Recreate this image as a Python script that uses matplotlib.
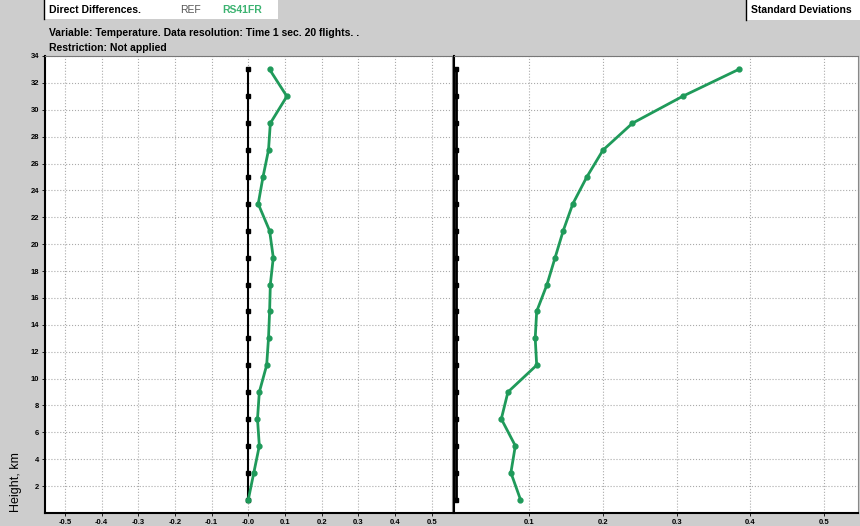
import numpy as np
import matplotlib.pyplot as plt

plt.rcParams['font.family'] = ['Liberation Sans', 'DejaVu Sans']

# heights of the layer midpoints, km
heights = [1, 3, 5, 7, 9, 11, 13, 15, 17, 19, 21, 23, 25, 27, 29, 31, 33]
# REF minus REF -> zero everywhere
ref_diff = [0.0] * len(heights)
ref_std = [0.0] * len(heights)
# RS41FR minus REF, temperature
rs41_diff = [0.0, 0.015, 0.03, 0.025, 0.03, 0.05, 0.055, 0.058, 0.06, 0.068,
             0.058, 0.027, 0.04, 0.055, 0.06, 0.105, 0.058]
rs41_std = [0.088, 0.075, 0.081, 0.062, 0.071, 0.110, 0.108, 0.110, 0.124, 0.135,
            0.146, 0.159, 0.178, 0.200, 0.240, 0.308, 0.384]

left_ticks = [-0.5, -0.4, -0.3, -0.2, -0.1, 0.0, 0.1, 0.2, 0.3, 0.4, 0.5]
left_labels = ['-0.5', '-0.4', '-0.3', '-0.2', '-0.1', '-0.0', '0.1', '0.2', '0.3', '0.4', '0.5']
right_ticks = [0.1, 0.2, 0.3, 0.4, 0.5]
right_labels = ['0.1', '0.2', '0.3', '0.4', '0.5']
y_ticks = list(range(2, 35, 2))

green = '#1f9a5a'
bg = '#cdcdcd'

fig = plt.figure(figsize=(8.6, 5.26), dpi=100, facecolor=bg)
W, H = 860, 526
ax1 = fig.add_axes([45 / W, 13 / H, 407 / W, 457 / H])
ax2 = fig.add_axes([454 / W, 13 / H, 404 / W, 457 / H])

for ax in (ax1, ax2):
    ax.set_facecolor('white')
    ax.set_ylim(0, 34)
    ax.set_yticks(y_ticks)
    ax.grid(True, color='#aaaaaa', linestyle=':', linewidth=0.8)
    ax.set_axisbelow(True)
    ax.spines['left'].set_color('black')
    ax.spines['bottom'].set_color('black')
    ax.spines['left'].set_linewidth(1.5)
    ax.spines['bottom'].set_linewidth(1.5)
    ax.spines['top'].set_color('#777777')
    ax.spines['right'].set_color('#888888')
    ax.tick_params(labelsize=5.5, length=2, width=0.6, pad=2)

ax1.set_xlim(-0.554, 0.555)
ax1.set_xticks(left_ticks)
ax1.set_xticklabels(left_labels, fontweight='bold', fontsize=5.5)
ax1.set_yticklabels([str(t) for t in y_ticks], fontweight='bold', fontsize=5.5)

ax2.set_xlim(-0.0022, 0.546)
ax2.set_xticks(right_ticks)
ax2.set_xticklabels(right_labels, fontweight='bold', fontsize=5.5)
ax2.tick_params(axis='y', labelleft=False, length=0)

# left: direct differences
ax1.plot(ref_diff, heights, color='black', lw=1.5, marker='s', ms=3, zorder=3)
ax1.plot(rs41_diff, heights, color=green, lw=2, marker='o', ms=3.5, zorder=4)

# right: standard deviations
ax2.plot(ref_std, heights, color='black', lw=2, marker='s', ms=3, zorder=3, clip_on=False)
ax2.plot(rs41_std, heights, color=green, lw=2, marker='o', ms=3.5, zorder=4)

fig.text(10 / W, 14 / H, 'Height, km', rotation=90, fontsize=9, va='bottom', ha='left')

# header
fig.patches.append(plt.Rectangle((44 / W, 1 - 19 / H), 234 / W, 19 / H,
                                 transform=fig.transFigure, facecolor='white',
                                 edgecolor='none'))
fig.add_artist(plt.Line2D([44 / W, 44 / W], [1 - 19 / H, 1], color='black', lw=1,
                          transform=fig.transFigure))
fig.text(49 / W, 1 - 10 / H, 'Direct Differences.', fontsize=7.5, fontweight='bold', va='center')
fig.text(180 / W, 1 - 10 / H, 'REF', fontsize=7.5, color='#555555', va='center')
fig.text(222 / W, 1 - 10 / H, 'RS41FR', fontsize=7.5, color='#3cb371', fontweight='bold', va='center')
fig.text(49 / W, 1 - 33 / H, 'Variable: Temperature. Data resolution: Time 1 sec. 20 flights. .',
         fontsize=7.5, fontweight='bold', va='center')
fig.text(49 / W, 1 - 48 / H, 'Restriction: Not applied', fontsize=7.5, fontweight='bold', va='center')

fig.patches.append(plt.Rectangle((746 / W, 1 - 20 / H), 114 / W, 20 / H,
                                 transform=fig.transFigure, facecolor='white',
                                 edgecolor='none'))
fig.add_artist(plt.Line2D([746 / W, 746 / W], [1 - 20 / H, 1], color='black', lw=1,
                          transform=fig.transFigure))
fig.text(751 / W, 1 - 10 / H, 'Standard Deviations', fontsize=7.5, fontweight='bold', va='center')

fig.savefig('out.png', dpi=100, facecolor=bg)
